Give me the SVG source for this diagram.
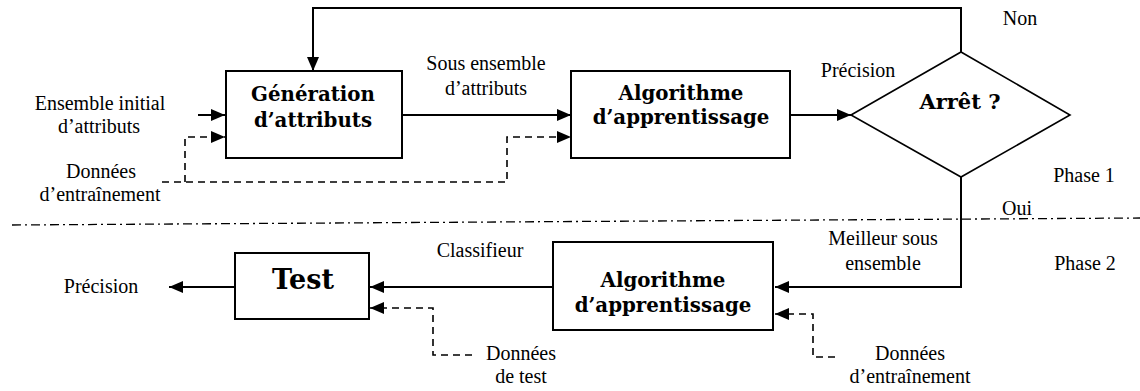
<svg xmlns="http://www.w3.org/2000/svg" width="1140" height="391" viewBox="0 0 1140 391">
  <style>
    .lbl { font-family: "Liberation Serif", "Times New Roman", serif; font-size: 20px; fill: #000; text-anchor: middle; }
    .bold { font-family: "DejaVu Serif", "Bookman Old Style", serif; font-weight: bold; font-size: 19.8px; fill: #000; text-anchor: middle; }
    .box { fill: #fff; stroke: #000; stroke-width: 2; }
    .flow { fill: none; stroke: #000; stroke-width: 2; }
    .data { fill: none; stroke: #000; stroke-width: 1.6; stroke-dasharray: 7 5; }
    .sep { fill: none; stroke: #000; stroke-width: 1.3; stroke-dasharray: 9 4 2 4; }
  </style>
  <defs>
    <marker id="arr" viewBox="0 0 14 12" refX="14" refY="6" markerWidth="14" markerHeight="12" markerUnits="userSpaceOnUse" orient="auto">
      <path d="M0,0 L14,6 L0,12 z" fill="#000"/>
    </marker>
  </defs>

  <rect width="1140" height="391" fill="#fff"/>

  <!-- phase separator -->
  <path class="sep" d="M12,225 L1140,218"/>

  <!-- connectors -->
  <g id="connectors">
    <path class="flow" d="M961,52 V8 H313 V71" marker-end="url(#arr)"/>
    <path class="flow" d="M198,115 H225" marker-end="url(#arr)"/>
    <path class="flow" d="M402,115 H571" marker-end="url(#arr)"/>
    <path class="flow" d="M790,115 H851" marker-end="url(#arr)"/>
    <path class="flow" d="M961,177 V287 H775" marker-end="url(#arr)"/>
    <path class="flow" d="M553,287 H370" marker-end="url(#arr)"/>
    <path class="flow" d="M235,287 H169" marker-end="url(#arr)"/>
    <path class="data" d="M162,182 H507 V137 H571" marker-end="url(#arr)"/>
    <path class="data" d="M185,182 V137 H225" marker-end="url(#arr)"/>
    <path class="data" d="M472,355 H433 V308 H370" marker-end="url(#arr)"/>
    <path class="data" d="M835,357 H813 V314 H775" marker-end="url(#arr)"/>
  </g>

  <!-- phase 1 -->
  <g id="generation">
    <rect class="box" x="226" y="71" width="176" height="87"/>
    <text class="bold" x="313" y="101">Génération</text>
    <text class="bold" x="313" y="127">d’attributs</text>
  </g>
  <g id="apprentissage1">
    <rect class="box" x="571" y="71" width="219" height="87"/>
    <text class="bold" x="681" y="100">Algorithme</text>
    <text class="bold" x="681" y="124">d’apprentissage</text>
  </g>
  <g id="arret">
    <polygon class="box" points="851,115 961,52 1070,115 961,177" style="stroke-width:1.6"/>
    <text class="bold" x="960" y="109" style="font-size:21px">Arrêt ?</text>
  </g>

  <!-- phase 2 -->
  <g id="apprentissage2">
    <rect class="box" x="553" y="242" width="220" height="88"/>
    <text class="bold" x="663" y="287">Algorithme</text>
    <text class="bold" x="663" y="312">d’apprentissage</text>
  </g>
  <g id="test">
    <rect class="box" x="235" y="253" width="134" height="66"/>
    <text class="bold" x="303" y="289" style="font-size:27px">Test</text>
  </g>

  <!-- labels -->
  <g id="labels">
    <text class="lbl" x="100" y="110">Ensemble initial</text>
    <text class="lbl" x="99" y="133">d’attributs</text>
    <text class="lbl" x="101" y="178">Données</text>
    <text class="lbl" x="100" y="201">d’entraînement</text>
    <text class="lbl" x="486" y="70">Sous ensemble</text>
    <text class="lbl" x="486" y="95">d’attributs</text>
    <text class="lbl" x="858" y="77">Précision</text>
    <text class="lbl" x="1020" y="25">Non</text>
    <text class="lbl" x="1084" y="182">Phase 1</text>
    <text class="lbl" x="1017" y="215">Oui</text>
    <text class="lbl" x="883" y="245">Meilleur sous</text>
    <text class="lbl" x="883" y="270">ensemble</text>
    <text class="lbl" x="1085" y="270">Phase 2</text>
    <text class="lbl" x="480" y="257">Classifieur</text>
    <text class="lbl" x="101" y="293">Précision</text>
    <text class="lbl" x="521" y="360">Données</text>
    <text class="lbl" x="521" y="383">de test</text>
    <text class="lbl" x="910" y="360">Données</text>
    <text class="lbl" x="910" y="383">d’entraînement</text>
  </g>
</svg>
